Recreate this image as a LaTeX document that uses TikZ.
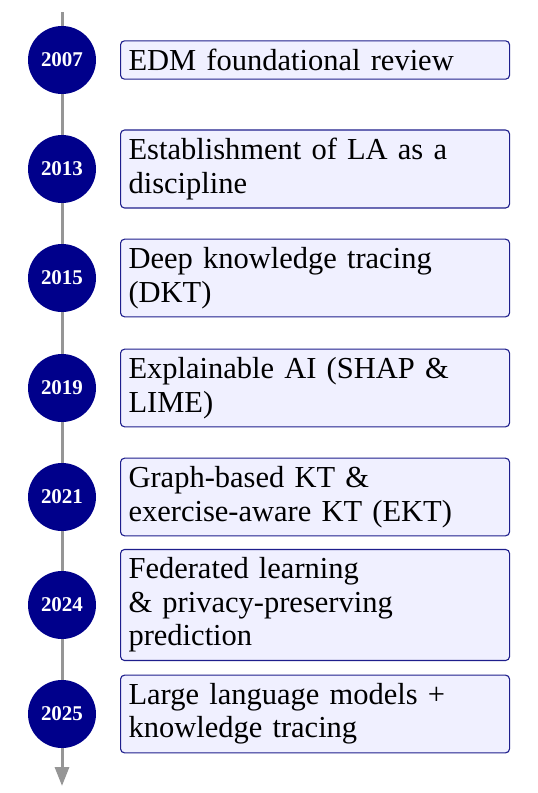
\documentclass[tikz,border=0pt]{standalone}
\usepackage{fontspec}
\setmainfont{Liberation Serif}
\usetikzlibrary{arrows.meta}
\definecolor{yearblue}{RGB}{0,0,139}
\definecolor{boxfill}{RGB}{240,240,255}
\definecolor{boxline}{RGB}{30,30,140}
\definecolor{linegray}{RGB}{150,150,150}
\begin{document}
\begin{tikzpicture}[x=1pt,y=1pt,
  year/.style={circle,fill=yearblue,text=white,minimum size=68pt,inner sep=0pt,
    font=\fontsize{21}{24}\selectfont\bfseries},
  event/.style={draw=boxline,fill=boxfill,line width=1.1pt,rounded corners=4pt,
    anchor=west,text width=373pt,align=left,inner xsep=8pt,inner ysep=8.3pt,
    font=\fontsize{30.5}{33.4}\selectfont},
  axis/.style={draw=linegray,line width=3pt,-{Triangle[width=14pt,length=19pt]}}]
\useasboundingbox (0,0) rectangle (538,-793);
\coordinate (top) at (62,-12);
\coordinate (bot) at (62,-786);
\draw[axis] (top) -- (bot);
\foreach \n/\y/\yr in {a/60/2007,b/169/2013,c/278/2015,d/388/2019,e/497/2021,f/605/2024,g/714/2025}{
  \node[year] (y\n) at (62,-\y) {\yr};
}
\node[event] (ea) at (120,-60) {EDM foundational review};
\node[event] (eb) at (120,-169) {Establishment of LA as a\\discipline};
\node[event] (ec) at (120,-278) {Deep knowledge tracing\\(DKT)};
\node[event] (ed) at (120,-388) {Explainable AI (SHAP \&\\LIME)};
\node[event] (ee) at (120,-497) {Graph-based KT \&\\exercise-aware KT (EKT)};
\node[event] (ef) at (120,-605) {Federated learning\\\& privacy-preserving\\prediction};
\node[event] (eg) at (120,-714) {Large language models +\\knowledge tracing};
\end{tikzpicture}
\end{document}
